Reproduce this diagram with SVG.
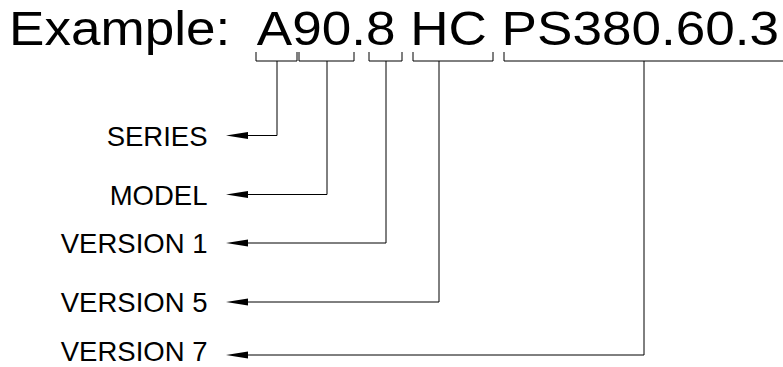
<svg xmlns="http://www.w3.org/2000/svg" width="783" height="367" viewBox="0 0 783 367">
<defs>
<style>
.title{font-family:"Liberation Sans",Arial,sans-serif;font-size:49px;fill:#000}
.lbl{font-family:"Liberation Sans",Arial,sans-serif;font-size:27.5px;fill:#000;text-anchor:end}
.ln{fill:none;stroke:#000;stroke-width:1}
</style>
</defs>
<rect width="783" height="367" fill="#fff"/>
<g id="title">
<text class="title" x="9" y="45" textLength="770" lengthAdjust="spacingAndGlyphs" xml:space="preserve">Example:  A90.8 HC PS380.60.3</text>
</g>
<g id="labels">
<g id="series"><text class="lbl" x="207.5" y="145.5">SERIES</text></g>
<g id="model"><text class="lbl" x="207.5" y="204.5">MODEL</text></g>
<g id="version1"><text class="lbl" x="207.5" y="253">VERSION 1</text></g>
<g id="version5"><text class="lbl" x="207.5" y="312">VERSION 5</text></g>
<g id="version7"><text class="lbl" x="207.5" y="361">VERSION 7</text></g>
</g>
<g id="connectors">
<path class="ln" d="M256,52 V61 H297 V52"/>
<path class="ln" d="M299,52 V61 H354 V52"/>
<path class="ln" d="M369,52 V61 H402 V52"/>
<path class="ln" d="M413,52 V61 H493 V52"/>
<path class="ln" d="M504,52 V61 H783"/>
<path class="ln" d="M277,61 V135.5 H248"/>
<path class="ln" d="M327,61 V194.5 H248"/>
<path class="ln" d="M386,61 V243 H248"/>
<path class="ln" d="M439,61 V302 H248"/>
<path class="ln" d="M644,61 V355 H248"/>
<path d="M226,135.5 L248,132 L248,139 Z"/>
<path d="M226,194.5 L248,191 L248,198 Z"/>
<path d="M226,243 L248,239.5 L248,246.5 Z"/>
<path d="M226,302 L248,298.5 L248,305.5 Z"/>
<path d="M226,355 L248,351.5 L248,358.5 Z"/>
</g>
</svg>
